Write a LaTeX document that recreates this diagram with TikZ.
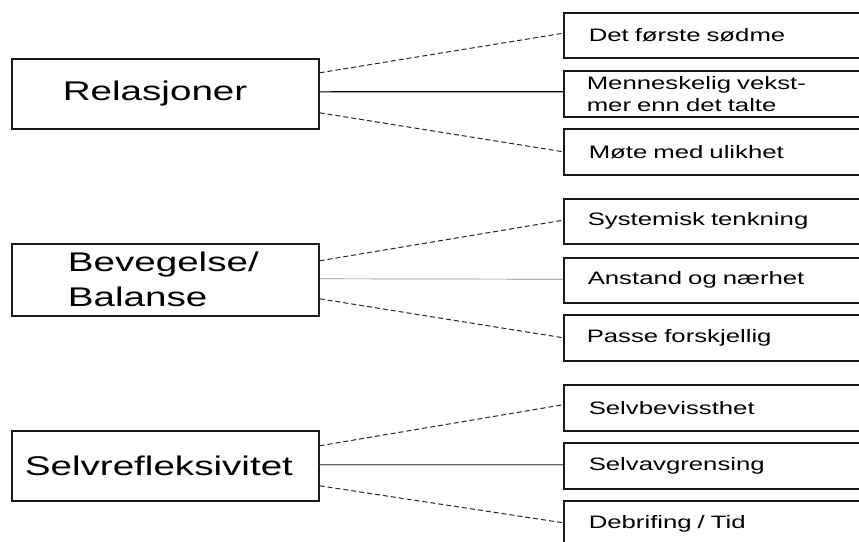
\documentclass[tikz,border=0pt]{standalone}
\usepackage{fontspec}
\setmainfont{Liberation Sans}[FakeStretch=1.43]
\begin{document}
\begin{tikzpicture}[x=1pt,y=-1pt,
  lbox/.style={draw=black!90,line width=1.6pt,anchor=north west,inner xsep=0pt,inner ysep=0pt,
    minimum width=307pt,text width=307pt,align=left,font=\fontsize{27}{35}\selectfont},
  rbox/.style={draw=black!90,line width=1.5pt,anchor=north west,inner xsep=0pt,inner ysep=0pt,
    minimum width=310pt,minimum height=45pt,text width=310pt,align=left,font=\fontsize{18}{22}\selectfont},
  dconn/.style={draw=black!85,line width=1pt,dash pattern=on 5pt off 3pt},
  sconn/.style={draw=black,line width=1.1pt},
  gconn/.style={draw=black!45,line width=0.7pt},
  mconn/.style={draw=black!60,line width=1.3pt}]
\clip (0,0) rectangle (859,541);
\useasboundingbox (0,0) rectangle (859,541);
\fill[white] (0,0) rectangle (859,541);

% left boxes
\node[lbox,minimum height=70pt] (rel) at (11,58) {\hspace*{51pt}Relasjoner};
\node[lbox,minimum height=72pt] (bev) at (11,243) {\hspace*{56pt}Bevegelse/\\\hspace*{56pt}Balanse};
\node[lbox,minimum height=70pt] (sel) at (11,430) {\hspace*{13pt}Selvrefleksivitet};

% right boxes
\node[rbox] (r1) at (563,12)  {\hspace*{25pt}Det første sødme};
\node[rbox,minimum height=46pt] (r2) at (563,70)  {\hspace*{23pt}Menneskelig vekst-\\\hspace*{23pt}mer enn det talte};
\node[rbox,minimum height=46pt] (r3) at (563,128) {\hspace*{25pt}Møte med ulikhet};
\node[rbox] (r4) at (563,198) {\hspace*{24pt}Systemisk tenkning};
\node[rbox] (r5) at (563,257) {\hspace*{24pt}Anstand og nærhet};
\node[rbox,minimum height=46pt] (r6) at (563,314) {\hspace*{23pt}Passe forskjellig};
\node[rbox,minimum height=46pt] (r7) at (563,384) {\hspace*{25pt}Selvbevissthet};
\node[rbox,minimum height=46pt] (r8) at (563,442) {\hspace*{25pt}Selvavgrensing};
\node[rbox,minimum height=46pt] (r9) at (563,500) {\hspace*{25pt}Debrifing / Tid};

% connectors
\draw[dconn] ([yshift=21pt]rel.east) -- ([yshift=2pt]r1.west);
\draw[sconn] ([yshift=2pt]rel.east) -- ([yshift=2pt]r2.west);
\draw[dconn] ([yshift=-19pt]rel.east) -- (r3.west);

\draw[dconn] ([yshift=19pt]bev.east) -- ([yshift=1pt]r4.west);
\draw[gconn] ([yshift=1pt]bev.east) -- ([yshift=1pt]r5.west);
\draw[dconn] ([yshift=-19pt]bev.east) -- (r6.west);

\draw[dconn] ([yshift=20pt]sel.east) -- ([yshift=3pt]r7.west);
\draw[mconn] ([yshift=1pt]sel.east) -- ([yshift=1pt]r8.west);
\draw[dconn] ([yshift=-20pt]sel.east) -- ([yshift=1pt]r9.west);
\end{tikzpicture}
\end{document}
